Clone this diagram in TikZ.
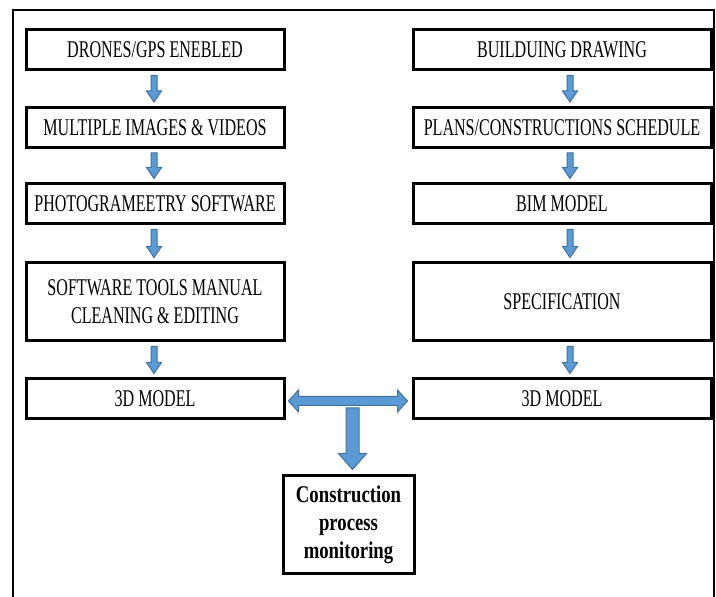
\documentclass[tikz,border=0pt]{standalone}
\usepackage{fontspec}
\setmainfont{Liberation Serif}[FakeStretch=0.67, BoldFeatures={FakeStretch=0.78}]
\usetikzlibrary{calc}
\definecolor{arrfill}{HTML}{5B9BD5}
\definecolor{arredge}{HTML}{41719C}

\tikzset{
  stepbox/.style={draw, line width=1.5pt, inner sep=2pt, align=center, font=\fontsize{12}{14}\selectfont},
  leftbox/.style={stepbox, minimum width=129pt},
  rightbox/.style={stepbox, minimum width=149pt},
  blockarr/.style={fill=arrfill, draw=arredge, line width=0.5pt, line join=miter}
}

% vertical block arrow: #1 start, #2 tip, #3 shaft half width, #4 head half width, #5 head length
\newcommand\flowarrow[5]{%
  \filldraw[blockarr] let \p1=(#1), \p2=(#2) in
    (\x1-#3,\y1) -- (\x1+#3,\y1) -- (\x1+#3,\y2+#5) -- (\x1+#4,\y2+#5) -- (\x1,\y2)
    -- (\x1-#4,\y2+#5) -- (\x1-#3,\y2+#5) -- cycle;}

\begin{document}
\begin{tikzpicture}[x=0.5pt, y=-0.5pt]
  \useasboundingbox (0,0) rectangle (716,597);
  \draw[line width=0.8pt] (13,597) -- (13,10) -- (714,10) -- (714,597);

  % drone side
  \node[leftbox, minimum height=20pt] (d1) at (155,50) {DRONES/GPS ENEBLED};
  \node[leftbox, minimum height=20pt] (d2) at (155,127.5) {MULTIPLE IMAGES \& VIDEOS};
  \node[leftbox, minimum height=20pt] (d3) at (155,204) {PHOTOGRAMEETRY SOFTWARE};
  \node[leftbox, minimum height=39pt] (d4) at (155,302) {SOFTWARE TOOLS MANUAL\\CLEANING \& EDITING};
  \node[leftbox, minimum height=20pt] (d5) at (155,399) {3D MODEL};

  % building side
  \node[rightbox, minimum height=20pt] (b1) at (562,50) {BUILDUING DRAWING};
  \node[rightbox, minimum height=20pt] (b2) at (562,127.5) {PLANS/CONSTRUCTIONS SCHEDULE};
  \node[rightbox, minimum height=20pt] (b3) at (562,204) {BIM MODEL};
  \node[rightbox, minimum height=39pt] (b4) at (562,302) {SPECIFICATION};
  \node[rightbox, minimum height=20pt] (b5) at (562,399) {3D MODEL};

  \node[stepbox, minimum width=65.5pt, minimum height=48.5pt, font=\fontsize{12}{14}\selectfont\bfseries]
    (mon) at (348.5,524.5) {Construction\\process\\monitoring};

  \foreach \a/\b in {d1/d2,d2/d3,d3/d4,d4/d5}
    {\flowarrow{$(\a.south)+(-0.5pt,-2pt)$}{$(\b.north)+(-0.5pt,2pt)$}{1.5pt}{3.75pt}{5.5pt}}
  \foreach \a/\b in {b1/b2,b2/b3,b3/b4,b4/b5}
    {\flowarrow{$(\a.south)+(4pt,-2pt)$}{$(\b.north)+(4pt,2pt)$}{1.5pt}{3.75pt}{5.5pt}}

  % both models compared
  \filldraw[blockarr] let \p1=($(d5.east)+(1.5pt,-1pt)$), \p2=($(b5.west)+(-2pt,-1pt)$) in
    (\x1,\y1) -- (\x1+5pt,\y1+5.5pt) -- (\x1+5pt,\y1+2.25pt) -- (\x2-5pt,\y1+2.25pt)
    -- (\x2-5pt,\y1+5.5pt) -- (\x2,\y1) -- (\x2-5pt,\y1-5.5pt) -- (\x2-5pt,\y1-2.25pt)
    -- (\x1+5pt,\y1-2.25pt) -- (\x1+5pt,\y1-5.5pt) -- cycle;
  \coordinate (join) at ($(d5.east)!0.5!(b5.west)$);
  \flowarrow{$(join)+(2pt,-4.5pt)$}{$(mon.north)+(2pt,2.5pt)$}{3.25pt}{7pt}{8pt}
\end{tikzpicture}
\end{document}
